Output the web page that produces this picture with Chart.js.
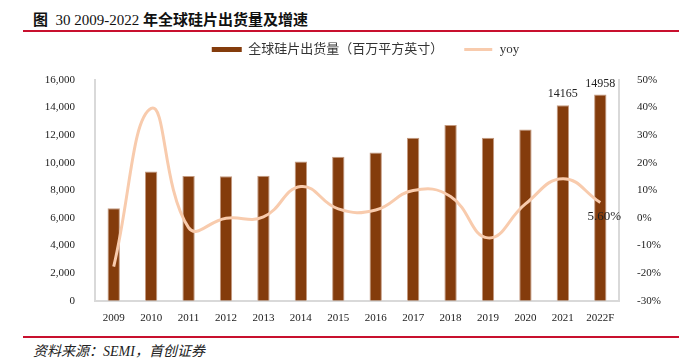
<!DOCTYPE html>
<html>
<head>
<meta charset="utf-8">
<script src="https://cdn.jsdelivr.net/npm/chart.js@4"></script>
<style>
  body { margin: 0; background: #fff; width: 679px; height: 364px; position: relative; overflow: hidden; }
  #title { position: absolute; left: 33px; top: 8px; font: bold 15px "Liberation Serif", "Noto Sans CJK SC"; color: #111; white-space: nowrap; }
  #title span { font-weight: normal; }
  .rule { position: absolute; left: 23px; right: 0; height: 2px; background: #C8102E; }
  #source { position: absolute; left: 33px; top: 340px; font: italic 14px "Liberation Serif", "Noto Sans CJK SC"; color: #222; white-space: nowrap; }
  #wrap { position: absolute; left: 0; top: 34px; width: 679px; height: 298px; }
</style>
</head>
<body>
<div id="title">图&nbsp; <span>30 2009-2022</span> 年全球硅片出货量及增速</div>
<div class="rule" style="top:30px"></div>
<div id="wrap"><canvas id="chart"></canvas></div>
<div class="rule" style="top:336px"></div>
<div id="source">资料来源：SEMI，首创证券</div>
<script>
document.addEventListener('DOMContentLoaded', function () {
    const years = ['2009', '2010', '2011', '2012', '2013', '2014', '2015', '2016', '2017', '2018', '2019', '2020', '2021', '2022F'];
    const shipments = [6707, 9370, 9043, 9031, 9067, 10098, 10434, 10738, 11810, 12732, 11810, 12407, 14165, 14958];
    const yoy = [-17.6, 39.7, -3.5, -0.1, 0.4, 11.4, 3.3, 2.9, 10.0, 7.8, -7.2, 5.1, 14.2, 5.6];

    const serif = '"Liberation Serif"';

    // value labels: last two bars, last yoy point
    const labelPlugin = {
        id: 'valueLabels',
        beforeInit(chart) {
            // fixed legend height, leaves a gap above the plot
            const fit = chart.legend.fit;
            chart.legend.fit = function () {
                fit.call(this);
                this.height = 46;
            };
        },
        afterLayout(chart) {
            // legend sits a bit right of the canvas centre and close to the top
            const lg = chart.legend;
            lg.left += 26;
            lg.right += 26;
            lg.top -= 11;
            lg.bottom -= 11;
        },
        afterDatasetsDraw(chart) {
            const ctx = chart.ctx;
            ctx.save();
            ctx.fillStyle = '#222';
            ctx.font = '12px ' + serif;
            ctx.textAlign = 'center';
            ctx.textBaseline = 'bottom';
            const bars = chart.getDatasetMeta(0).data;
            [12, 13].forEach(function (i) {
                ctx.fillText(String(shipments[i]), bars[i].x, bars[i].y - 5);
            });
            const pts = chart.getDatasetMeta(1).data;
            const last = pts[pts.length - 1];
            ctx.font = '13px ' + serif;
            ctx.textBaseline = 'middle';
            ctx.fillText(yoy[yoy.length - 1].toFixed(2) + '%', last.x + 4, last.y + 14);
            ctx.restore();
        }
    };

    new Chart(document.getElementById('chart'), {
        data: {
            labels: years,
            datasets: [{
                type: 'bar',
                label: '全球硅片出货量（百万平方英寸）',
                data: shipments,
                backgroundColor: '#843C0C',
                borderColor: '#C49A80',
                borderWidth: { left: 1, right: 1, top: 1, bottom: 0 },
                barPercentage: 0.33,
                categoryPercentage: 1,
                yAxisID: 'y',
                order: 2
            }, {
                type: 'line',
                label: 'yoy',
                data: yoy,
                borderColor: '#F8CBAD',
                backgroundColor: '#F8CBAD',
                borderWidth: 3,
                pointRadius: 0,
                tension: 0.45,
                yAxisID: 'y1',
                order: 1
            }]
        },
        options: {
            responsive: true,
            maintainAspectRatio: false,
            animation: false,
            layout: { padding: { top: 0, bottom: 4 } },
            plugins: {
                legend: {
                    position: 'top',
                    labels: {
                        boxWidth: 30,
                        boxHeight: 5,
                        padding: 20,
                        color: '#333',
                        font: { family: '"Liberation Serif", "Noto Sans CJK SC"', size: 13 },
                        sort: function (a, b) { return a.datasetIndex - b.datasetIndex; },
                        generateLabels: function (chart) {
                            const items = Chart.defaults.plugins.legend.labels.generateLabels(chart);
                            items.forEach(function (it) {
                                if (it.datasetIndex === 1) {
                                    // thin swatch for the line series
                                    it.strokeStyle = '#fff';
                                    it.lineWidth = 2;
                                } else {
                                    it.lineWidth = 0;
                                }
                            });
                            return items;
                        }
                    }
                },
                tooltip: { enabled: false }
            },
            scales: {
                x: {
                    grid: { display: false },
                    border: { color: '#D9D9D9', width: 2 },
                    ticks: { color: '#222', font: { family: serif, size: 11 }, padding: 3 }
                },
                y: {
                    position: 'left',
                    min: 0,
                    max: 16000,
                    grid: { display: false },
                    border: { color: '#D9D9D9', width: 2 },
                    ticks: {
                        stepSize: 2000,
                        padding: 12,
                        color: '#222',
                        font: { family: serif, size: 11 },
                        callback: function (v) { return v.toLocaleString('en-US'); }
                    },
                    afterFit: function (s) { s.width = 95; }
                },
                y1: {
                    position: 'right',
                    min: -30,
                    max: 50,
                    grid: { display: false },
                    border: { color: '#D9D9D9', width: 2 },
                    ticks: {
                        stepSize: 10,
                        padding: 10,
                        color: '#222',
                        font: { family: serif, size: 11 },
                        callback: function (v) { return v + '%'; }
                    },
                    afterFit: function (s) { s.width = 60; }
                }
            }
        },
        plugins: [labelPlugin]
    });
});
</script>
</body>
</html>
